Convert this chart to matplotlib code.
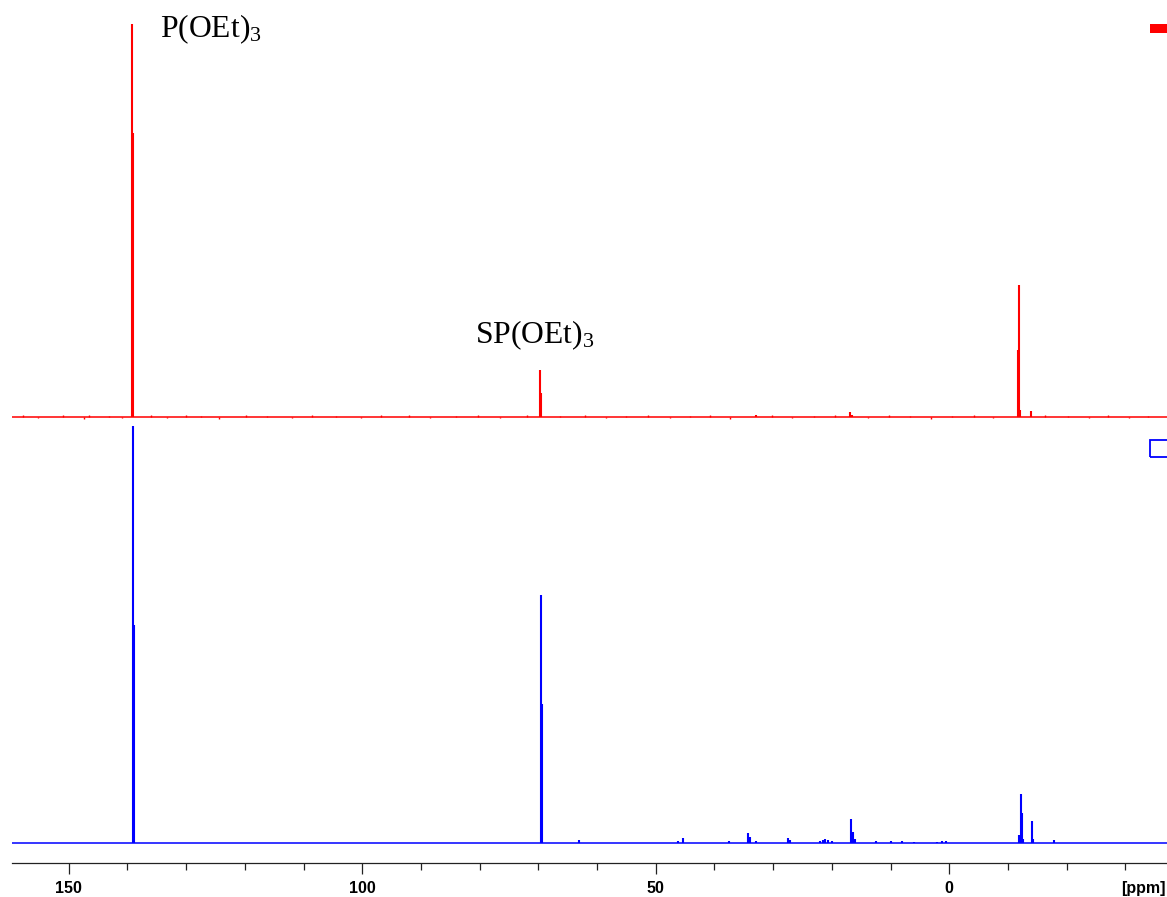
"""31P NMR overlay: P(OEt)3 / SP(OEt)3 (red, top) vs blue trace (bottom)."""

import matplotlib
matplotlib.use('Agg')
import matplotlib.pyplot as plt
from matplotlib.patches import Rectangle

plt.rcParams['mathtext.fontset'] = 'custom'
plt.rcParams['mathtext.rm'] = 'Liberation Serif'
plt.rcParams['mathtext.default'] = 'rm'

# ---------------------------------------------------------------------------
# Data (ppm, relative intensity, tallest peak = 100)
# ---------------------------------------------------------------------------
red_ppm = [139.23, 139.06, 69.68, 69.51, -11.85, -11.70, -12.10, -13.95, 16.9, 16.6, 33.0]
red_int = [100.0, 72.3, 12.0, 6.1, 33.6, 17.0, 1.8, 1.5, 1.3, 0.6, 0.6]

# baseline noise of the red trace (small positive / negative spikes)
red_noise_ppm = [157.8, 155.2, 151.0, 147.4, 146.6, 143.2, 141.0, 136.0, 133.2,
                 130.1, 127.5, 124.4, 119.8, 116.3, 112.0, 108.6, 104.5, 100.2,
                 96.8, 92.1, 88.4, 84.0, 80.3, 76.5, 72.0, 66.3, 62.0, 58.4,
                 55.1, 51.3, 47.6, 44.2, 40.8, 37.3, 30.2, 26.7, 23.1, 19.5,
                 13.8, 10.2, 6.6, 3.1, -0.4, -4.2, -7.5, -16.4, -20.3, -23.8,
                 -27.1, -30.6, -33.9]
red_noise_int = [0.4, -0.3, 0.5, -0.4, 0.4, 0.3, -0.3, 0.4, -0.3, 0.5, 0.3, -0.4,
                 0.4, 0.3, -0.3, 0.4, 0.3, -0.3, 0.4, 0.4, -0.3, 0.3, 0.4, -0.3,
                 0.4, 0.3, 0.4, -0.3, 0.3, 0.4, -0.3, 0.3, 0.4, -0.4, 0.4, -0.3,
                 0.3, 0.4, -0.3, 0.4, 0.3, -0.4, 0.3, 0.4, -0.3, 0.4, 0.3, -0.3,
                 0.4, -0.3, 0.3]

blue_ppm = [139.06, 138.90, 69.51, 69.34, -11.9, -12.2, -12.35, -12.6, -14.05, -14.3,
            -17.85, 16.8, 16.4, 16.0, 63.0, 46.2, 45.35, 37.5, 34.2, 33.9, 33.0,
            27.5, 27.2, 22.0, 21.5, 21.2, 20.6, 20.0, 12.5, 10.0, 8.0, 6.0, 2.0,
            1.2, 0.6]
blue_int = [100.0, 52.3, 59.5, 33.3, 2.0, 11.8, 7.2, 1.0, 5.3, 1.0,
            0.6, 5.8, 2.6, 1.0, 0.7, 0.5, 1.2, 0.4, 2.4, 1.5, 0.5,
            1.2, 0.6, 0.5, 0.8, 1.0, 0.7, 0.5, 0.4, 0.4, 0.4, 0.3, 0.3,
            0.4, 0.4]

peak_labels = ['P(OEt)$_3$', 'SP(OEt)$_3$']
label_ppm = [134.4, 80.8]
label_int = [96.7, 18.8]

major_ticks = [150, 100, 50, 0]
minor_ticks = [140, 130, 120, 110, 90, 80, 70, 60, 40, 30, 20, 10, -10, -20, -30]
x_limits = (159.66, -37.1)

RED = '#ff0000'
BLUE = '#0000ff'

# ---------------------------------------------------------------------------
# Figure
# ---------------------------------------------------------------------------
fig = plt.figure(figsize=(11.67, 8.97), dpi=100)
ax_top = fig.add_axes([0.0103, 0.5318, 0.9897, 0.4682])
ax_bot = fig.add_axes([0.0103, 0.0379, 0.9897, 0.4939])

for ax in (ax_top, ax_bot):
    ax.set_xlim(*x_limits)
    for side in ('top', 'left', 'right', 'bottom'):
        ax.spines[side].set_visible(False)
    ax.set_yticks([])

ax_top.set_ylim(-0.76, 106.1)
ax_bot.set_ylim(-4.8, 101.4)

# red spectrum
ax_top.axhline(0, color=RED, lw=1.3, alpha=0.85)
ax_top.vlines(red_noise_ppm, 0, red_noise_int, color=RED, lw=1.0)
ax_top.vlines(red_ppm, 0, red_int, color=RED, lw=1.5)

# blue spectrum
ax_bot.axhline(0, color=BLUE, lw=1.3, alpha=0.85)
ax_bot.vlines(blue_ppm, 0, blue_int, color=BLUE, lw=1.5)

for txt, xp, yp in zip(peak_labels, label_ppm, label_int):
    ax_top.text(xp, yp, txt, fontsize=22.8, family='Liberation Serif',
                ha='left', va='baseline', color='black')

# trace indicators (top right)
ax_top.add_patch(Rectangle((0.985, 0.921), 0.016, 0.0214, transform=ax_top.transAxes,
                           facecolor=RED, edgecolor=RED, lw=0, clip_on=False))
ax_bot.add_patch(Rectangle((0.985, 0.9165), 0.03, 0.038, transform=ax_bot.transAxes,
                           facecolor='none', edgecolor=BLUE, lw=1.3, clip_on=False))

# ppm axis
ax_top.set_xticks([])
ax_bot.spines['bottom'].set_visible(True)
ax_bot.spines['bottom'].set_color('#222222')
ax_bot.spines['bottom'].set_linewidth(0.9)
ax_bot.set_xticks(major_ticks)
ax_bot.set_xticklabels([str(t) for t in major_ticks])
ax_bot.set_xticks(minor_ticks, minor=True)
ax_bot.tick_params(axis='x', which='major', length=8, width=0.9, pad=5,
                   labelsize=11.5, color='#222222')
ax_bot.tick_params(axis='x', which='minor', length=4.8, width=0.9, color='#222222')
for lab in ax_bot.get_xticklabels():
    lab.set_fontweight('bold')
    lab.set_family('Liberation Sans')

ax_bot.text(0.9985, -0.0395, '[ppm]', transform=ax_bot.transAxes, ha='right', va='top',
            fontsize=11.5, fontweight='bold', family='Liberation Sans')

fig.savefig('out.png', dpi=100)
